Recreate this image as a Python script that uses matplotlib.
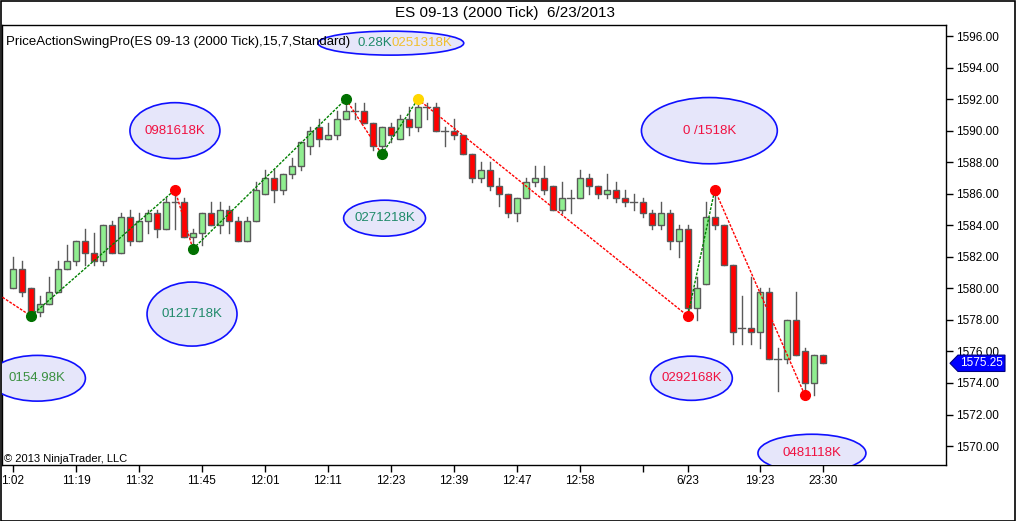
import matplotlib
matplotlib.use("Agg")
import matplotlib.pyplot as plt
from matplotlib.patches import Ellipse, Rectangle, Polygon
from matplotlib.transforms import blended_transform_factory

plt.rcParams["font.family"] = ["Liberation Sans", "DejaVu Sans"]

# OHLC of the 2000-tick bars
opens = [1580.0, 1581.25, 1580.0, 1578.5, 1579.0, 1579.75, 1581.25, 1581.75, 1583.0, 1582.25,
         1581.75, 1584.0, 1582.25, 1584.5, 1583.0, 1584.25, 1584.75, 1583.75, 1585.5, 1585.5,
         1583.25, 1583.5, 1584.75, 1584.0, 1585.0, 1584.25, 1583.0, 1584.25, 1586.0, 1587.0,
         1586.25, 1587.25, 1587.75, 1589.0, 1590.25, 1589.5, 1589.75, 1590.75, 1591.25, 1591.25,
         1590.5, 1589.0, 1590.25, 1589.5, 1590.75, 1590.25, 1591.5, 1591.5, 1590.0, 1590.0,
         1589.75, 1588.5, 1587.0, 1587.5, 1586.5, 1586.0, 1584.75, 1585.75, 1586.75, 1587.0,
         1586.5, 1585.0, 1585.75, 1585.75, 1587.0, 1586.5, 1586.0, 1586.25, 1585.75, 1585.5,
         1585.5, 1584.75, 1584.0, 1584.75, 1583.0, 1583.75, 1578.75, 1580.25, 1584.5, 1584.0,
         1581.5, 1577.5, 1577.5, 1577.25, 1579.75, 1575.5, 1575.5, 1578.0, 1576.0, 1574.0,
         1575.75]
highs = [1582.0, 1581.75, 1580.0, 1579.5, 1580.75, 1581.75, 1582.75, 1583.0, 1583.75, 1583.5,
         1584.0, 1584.25, 1584.75, 1585.0, 1584.75, 1585.0, 1585.0, 1585.75, 1586.25, 1585.75,
         1583.75, 1584.75, 1585.5, 1585.5, 1585.25, 1584.5, 1584.5, 1586.75, 1587.5, 1587.5,
         1587.25, 1588.25, 1589.25, 1590.25, 1590.75, 1590.5, 1591.25, 1592.0, 1591.75, 1591.75,
         1590.5, 1590.25, 1590.5, 1591.0, 1591.5, 1592.0, 1591.75, 1591.75, 1590.25, 1590.75,
         1589.75, 1588.5, 1588.0, 1588.0, 1587.0, 1586.0, 1585.75, 1587.0, 1587.75, 1587.75,
         1586.5, 1586.75, 1586.25, 1587.5, 1587.25, 1586.5, 1587.25, 1586.75, 1586.25, 1586.0,
         1585.75, 1585.0, 1585.5, 1585.0, 1584.0, 1584.0, 1580.75, 1585.5, 1586.25, 1584.0,
         1581.5, 1579.5, 1580.75, 1580.0, 1580.0, 1576.25, 1578.0, 1579.75, 1576.25, 1575.75,
         1575.75]
lows = [1580.0, 1579.5, 1578.25, 1578.25, 1579.0, 1579.75, 1581.25, 1581.5, 1581.5, 1581.5,
        1581.5, 1582.25, 1582.25, 1582.75, 1583.0, 1583.5, 1583.25, 1583.75, 1583.75, 1583.25,
        1582.5, 1582.75, 1584.0, 1583.5, 1583.5, 1583.0, 1583.0, 1584.25, 1586.0, 1585.5,
        1586.0, 1587.0, 1587.5, 1588.5, 1589.0, 1589.5, 1589.5, 1590.75, 1590.75, 1590.5,
        1588.75, 1588.5, 1589.25, 1589.5, 1589.75, 1590.0, 1590.75, 1590.0, 1589.0, 1589.5,
        1588.5, 1586.75, 1586.75, 1586.25, 1585.25, 1584.5, 1584.25, 1585.75, 1586.5, 1586.0,
        1585.0, 1584.75, 1584.75, 1585.75, 1586.0, 1585.75, 1585.75, 1585.5, 1585.25, 1585.0,
        1584.5, 1583.75, 1583.75, 1582.5, 1582.0, 1578.25, 1578.0, 1580.25, 1583.75, 1581.5,
        1576.5, 1576.5, 1576.5, 1576.25, 1575.5, 1573.5, 1575.25, 1575.75, 1573.25, 1573.25,
        1575.25]
closes = [1581.25, 1579.75, 1578.25, 1579.0, 1579.75, 1581.25, 1581.75, 1583.0, 1582.25, 1581.75,
          1584.0, 1582.25, 1584.5, 1583.0, 1584.25, 1584.75, 1583.75, 1585.5, 1585.5, 1583.25,
          1583.5, 1584.75, 1584.0, 1585.0, 1584.25, 1583.0, 1584.25, 1586.25, 1587.0, 1586.25,
          1587.25, 1587.75, 1589.25, 1590.0, 1589.5, 1589.75, 1590.75, 1591.25, 1591.25, 1590.5,
          1589.0, 1590.25, 1589.75, 1590.75, 1590.25, 1591.5, 1591.5, 1590.0, 1590.0, 1589.75,
          1588.5, 1587.0, 1587.5, 1586.5, 1586.0, 1584.75, 1585.75, 1586.75, 1587.0, 1586.25,
          1585.0, 1585.75, 1585.75, 1587.0, 1586.5, 1586.0, 1586.25, 1585.75, 1585.5, 1585.5,
          1584.75, 1584.0, 1584.75, 1583.0, 1583.75, 1578.75, 1580.0, 1584.5, 1584.0, 1581.5,
          1577.25, 1577.5, 1577.25, 1579.75, 1575.5, 1575.5, 1578.0, 1575.75, 1574.0, 1575.75,
          1575.25]

# swing points (bar index, price, dot colour); first one lies off the left edge
swing_bars = [-6, 2, 18, 20, 37, 41, 45, 75, 78, 88]
swing_prices = [1581.25, 1578.25, 1586.25, 1582.5, 1592.0, 1588.5, 1592.0, 1578.25, 1586.25, 1573.25]
swing_dot_colors = [None, "#007000", "#ff0000", "#007000", "#007000", "#007000", "#ffd700",
                    "#ff0000", "#ff0000", "#ff0000"]

# swing labels: (centre bar, centre price, width in bars, height in points, text, colour)
swing_labels = [
    (18.0, 1590.0, 10.0, 3.55, "0981618K", "#f01040"),
    (42.0, 1595.55, 16.2, 1.52, "", "black"),
    (41.3, 1584.45, 9.1, 2.28, "0271218K", "#1f8a6a"),
    (19.9, 1578.37, 10.0, 4.06, "0121718K", "#1f8a6a"),
    (2.7, 1574.3, 10.7, 2.9, "0154.98K", "#3a9040"),
    (77.4, 1590.0, 15.1, 4.2, "0 /1518K", "#f01040"),
    (75.4, 1574.3, 9.1, 2.8, "0292168K", "#f01040"),
    (88.8, 1569.55, 12.0, 2.4, "0481118K", "#f01040"),
]
top_texts = [(40.2, "0.28K", "#1f8a6a"), (45.4, "0251318K", "#f0c030")]

tick_bars = [0, 7, 14, 21, 28, 35, 42, 49, 56, 63, 70, 75, 83, 90]
tick_labels = ["1:02", "11:19", "11:32", "11:45", "12:01", "12:11", "12:23", "12:39",
               "12:47", "12:58", "", "6/23", "19:23", "23:30"]
price_ticks = [1570 + 2 * k for k in range(14)]
last_price = 1575.25

W, H = 1016, 521
fig = plt.figure(figsize=(W / 100, H / 100), dpi=100)
ax = fig.add_axes([2 / W, (H - 465) / H, 944 / W, 440 / H])
ax.set_xlim(-1.22, 103.7)
ax.set_ylim(1568.8, 1596.7)

# candles
edge = "#5a5a5a"
for i in range(len(opens)):
    o, h, l, c = opens[i], highs[i], lows[i], closes[i]
    ax.plot([i, i], [l, h], color=edge, lw=1, zorder=2)
    if c == o:
        ax.plot([i - 0.38, i + 0.38], [c, c], color=edge, lw=1, zorder=3)
    else:
        face = "#90ee90" if c > o else "#ff0000"
        ax.add_patch(Rectangle((i - 0.34, min(o, c)), 0.68, abs(c - o), facecolor=face,
                               edgecolor=edge, lw=1, zorder=3))

# zigzag swing lines
for k in range(1, len(swing_bars)):
    up = swing_prices[k] > swing_prices[k - 1]
    ax.plot(swing_bars[k - 1:k + 1], swing_prices[k - 1:k + 1],
            color="#008000" if up else "#ff0000", lw=1, ls=(0, (2, 1)), zorder=4)
for b, p, col in zip(swing_bars, swing_prices, swing_dot_colors):
    if col:
        ax.plot(b, p, marker="o", ms=7, color=col, mec=col, zorder=5)

# swing labels in ellipses
for cx, cy, w, h, t, col in swing_labels:
    ax.add_patch(Ellipse((cx, cy), w, h, facecolor="#e6e6fa", edgecolor="#1010ff",
                         lw=1.2, zorder=6))
    if t:
        ax.text(cx, cy, t, color=col, fontsize=9.5, ha="center", va="center", zorder=7)
for bx, t, col in top_texts:
    ax.text(bx, 1595.55, t, color=col, fontsize=9.5, ha="center", va="center", zorder=7)

ax.text(0.004, 0.975, "PriceActionSwingPro(ES 09-13 (2000 Tick),15,7,Standard)",
        transform=ax.transAxes, fontsize=9.5, va="top", ha="left", zorder=8)
ax.text(0.002, 0.003, "\u00a9 2013 NinjaTrader, LLC", transform=ax.transAxes,
        fontsize=8, va="bottom", ha="left", zorder=8)

fig.text(0.497, 1 - 13 / H, "ES 09-13 (2000 Tick)  6/23/2013", fontsize=11,
         ha="center", va="center")

# axes styling
ax.set_xticks(tick_bars)
ax.set_xticklabels(tick_labels, fontsize=8.5)
ax.yaxis.tick_right()
ax.set_yticks(price_ticks)
ax.set_yticklabels([f"{p:.2f}" for p in price_ticks], fontsize=8.5)
ax.tick_params(axis="both", direction="out", length=5, width=1, pad=2, color="black")
for s in ax.spines.values():
    s.set_linewidth(1)

# last-price tag
tr = blended_transform_factory(ax.transAxes, ax.transData)
d = 0.52
ax.add_patch(Polygon([(1.0042, last_price), (1.0127, last_price + d), (1.0625, last_price + d),
                      (1.0625, last_price - d), (1.0127, last_price - d)], closed=True,
                     transform=tr, facecolor="#0000ff", edgecolor="#000080", lw=0.8,
                     clip_on=False, zorder=10))
ax.text(1.0375, last_price, f"{last_price:.2f}", transform=tr, color="white", fontsize=8.5,
        ha="center", va="center", zorder=11, clip_on=False)

fig.add_artist(Rectangle((0.5 / W, 0.5 / H), 1 - 1.5 / W, 1 - 1.5 / H, transform=fig.transFigure,
                         fill=False, edgecolor="black", lw=1.2))

fig.savefig("out.png", dpi=100)
